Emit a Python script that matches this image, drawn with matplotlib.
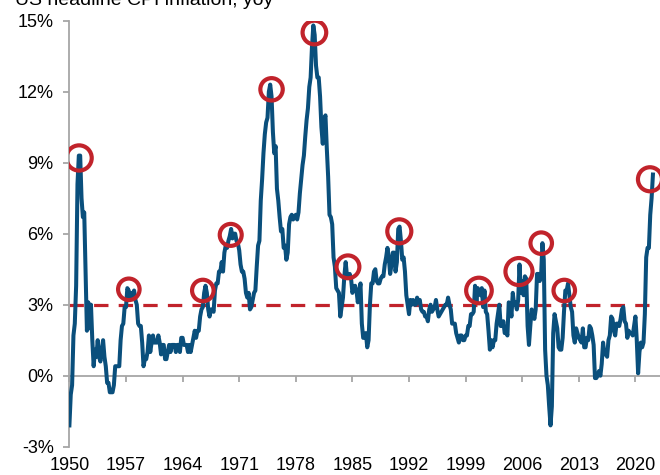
import numpy as np
import matplotlib.pyplot as plt

plt.rcParams['font.family'] = ['Liberation Sans', 'DejaVu Sans']

# US headline CPI, yoy %, read every two months (Jan, Mar, May, Jul, Sep, Nov)
start_year = 1950
cpi_yoy = [
    -2.1, -0.8, -0.4, 1.7, 2.2, 3.8,     # 1950
    8.1, 9.3, 9.3, 7.5, 6.7, 6.9,        # 1951
    4.3, 1.9, 3.1, 2.0, 3.0, 1.5,        # 1952
    0.4, 1.1, 0.8, 1.5, 0.8, 0.6,        # 1953
    1.1, 1.5, 0.8, 0.4, -0.3, -0.3,      # 1954
    -0.7, -0.7, -0.7, -0.4, 0.4, 0.4,    # 1955
    0.4, 0.4, 1.5, 2.1, 2.2, 2.9,        # 1956
    2.9, 3.7, 3.6, 3.3, 3.5, 3.3,        # 1957
    3.6, 3.2, 3.0, 2.2, 2.1, 2.1,        # 1958
    1.4, 0.4, 0.7, 0.7, 1.0, 1.7,        # 1959
    1.0, 1.4, 1.7, 1.4, 1.4, 1.4,        # 1960
    1.7, 1.4, 0.9, 1.3, 1.3, 0.7,        # 1961
    0.7, 1.0, 1.3, 1.0, 1.3, 1.3,        # 1962
    1.3, 1.0, 1.3, 1.3, 1.0, 1.6,        # 1963
    1.6, 1.3, 1.3, 1.3, 1.0, 1.3,        # 1964
    1.0, 1.3, 1.6, 1.9, 1.6, 1.9,        # 1965
    1.9, 2.5, 2.8, 2.9, 3.5, 3.8,        # 1966
    3.5, 2.8, 2.5, 2.8, 2.8, 2.7,        # 1967
    3.6, 3.9, 3.9, 4.4, 4.4, 4.8,        # 1968
    4.4, 5.2, 5.5, 5.4, 5.7, 5.9,        # 1969
    6.2, 5.8, 6.0, 6.0, 5.7, 5.6,        # 1970
    5.3, 4.7, 4.4, 4.4, 4.1, 3.5,        # 1971
    3.3, 3.5, 2.8, 2.9, 3.2, 3.5,        # 1972
    3.6, 4.6, 5.5, 5.7, 7.4, 8.3,        # 1973
    9.4, 10.2, 10.7, 10.9, 12.0, 12.3,   # 1974
    11.8, 10.3, 9.4, 9.7, 7.9, 7.4,      # 1975
    6.7, 6.1, 6.2, 5.4, 5.5, 4.9,        # 1976
    5.2, 6.4, 6.7, 6.8, 6.6, 6.7,        # 1977
    6.8, 6.6, 6.9, 7.7, 8.3, 8.9,        # 1978
    9.3, 10.1, 10.8, 11.3, 12.2, 12.6,   # 1979
    13.9, 14.8, 14.4, 13.1, 12.6, 12.6,  # 1980
    11.8, 10.5, 9.8, 10.8, 11.0, 9.6,    # 1981
    8.4, 6.8, 6.7, 6.4, 5.0, 4.6,        # 1982
    3.7, 3.6, 3.5, 2.5, 2.9, 3.3,        # 1983
    4.2, 4.8, 4.2, 4.2, 4.3, 4.1,        # 1984
    3.5, 3.7, 3.8, 3.6, 3.1, 3.5,        # 1985
    3.9, 2.2, 1.6, 1.6, 1.8, 1.2,        # 1986
    1.5, 3.0, 3.9, 3.9, 4.4, 4.5,        # 1987
    4.0, 3.9, 3.9, 4.1, 4.2, 4.2,        # 1988
    4.7, 5.0, 5.4, 5.0, 4.3, 4.7,        # 1989
    5.2, 5.2, 4.4, 4.8, 6.2, 6.3,        # 1990
    5.7, 4.9, 5.0, 4.4, 3.4, 3.0,        # 1991
    2.6, 3.2, 3.0, 3.2, 3.0, 3.0,        # 1992
    3.3, 3.1, 3.2, 2.8, 2.7, 2.7,        # 1993
    2.5, 2.5, 2.3, 2.8, 3.0, 2.7,        # 1994
    2.8, 2.9, 3.2, 2.8, 2.5, 2.6,        # 1995
    2.7, 2.8, 2.9, 3.0, 3.0, 3.3,        # 1996
    3.0, 2.8, 2.2, 2.2, 2.2, 1.8,        # 1997
    1.6, 1.4, 1.7, 1.7, 1.5, 1.5,        # 1998
    1.7, 1.7, 2.1, 2.1, 2.6, 2.6,        # 1999
    2.7, 3.8, 3.1, 3.7, 3.5, 3.4,        # 2000
    3.7, 2.9, 3.6, 2.7, 2.6, 1.9,        # 2001
    1.1, 1.5, 1.2, 1.5, 1.5, 2.2,        # 2002
    2.6, 3.0, 2.1, 2.1, 2.3, 1.8,        # 2003
    1.9, 1.7, 3.1, 3.0, 2.5, 3.5,        # 2004
    3.0, 3.1, 2.8, 3.2, 4.7, 3.5,        # 2005
    4.0, 3.4, 4.2, 4.1, 2.1, 1.3,        # 2006
    2.1, 2.8, 2.7, 2.4, 2.8, 4.3,        # 2007
    4.3, 4.0, 4.2, 5.6, 4.9, 1.1,        # 2008
    0.0, -0.4, -1.3, -2.1, -1.3, 1.8,    # 2009
    2.6, 2.3, 2.0, 1.2, 1.1, 1.1,        # 2010
    1.6, 2.7, 3.6, 3.6, 3.9, 3.4,        # 2011
    2.9, 2.7, 1.7, 1.4, 2.0, 1.8,        # 2012
    1.6, 1.5, 1.4, 2.0, 1.2, 1.2,        # 2013
    1.6, 1.5, 2.1, 2.0, 1.7, 1.3,        # 2014
    -0.1, -0.1, 0.0, 0.2, 0.0, 0.5,      # 2015
    1.4, 0.9, 1.0, 0.8, 1.5, 1.7,        # 2016
    2.5, 2.4, 1.9, 1.7, 2.2, 2.2,        # 2017
    2.1, 2.4, 2.8, 2.9, 2.3, 2.2,        # 2018
    1.6, 1.9, 1.8, 1.8, 1.7, 2.1,        # 2019
    2.5, 1.5, 0.1, 1.0, 1.4, 1.2,        # 2020
    1.4, 2.6, 5.0, 5.4, 5.4, 6.8,        # 2021
    7.5, 8.5,                            # 2022
]

# circled peaks (year, %)
peak_years = [1951.2, 1957.35, 1966.5, 1969.95, 1975.0, 1980.3, 1984.45,
              1990.8, 2000.65, 2005.6, 2008.35, 2011.2, 2021.8]
peak_values = [9.2, 3.65, 3.6, 5.95, 12.1, 14.5, 4.6, 6.1, 3.6, 4.4, 5.6, 3.6, 8.3]
peak_sizes = [330, 240, 240, 250, 260, 290, 270, 300, 340, 380, 240, 240, 300]

threshold = 3
x_ticks = list(range(1950, 2021, 7))
y_ticks = list(range(-3, 16, 3))

x = start_year + np.arange(len(cpi_yoy)) / 6

fig = plt.figure(figsize=(6.6, 4.75), dpi=100)
ax = fig.add_axes([69.4 / 660, 1 - 446.7 / 475, 1 - 69.4 / 660, (446.7 - 20.7) / 475])

blue = '#0a4f7c'
red = '#c1232b'
grey = '#a6a6a6'

ax.hlines(threshold, 1950, 2021.7, color=red, lw=2.3, linestyle=(0, (4.5, 3.2)), zorder=2)
ax.plot(x, cpi_yoy, color=blue, lw=2.9, solid_joinstyle='round', zorder=3)
ax.scatter(peak_years, peak_values, s=peak_sizes, facecolors='none',
           edgecolors=red, linewidths=3, zorder=4)

ax.set_xlim(1950, 2023.04)
ax.set_ylim(-3, 15)
ax.set_xticks(x_ticks)
ax.set_yticks(y_ticks)
ax.set_yticklabels([f'{v}%' for v in y_ticks])

ax.spines['top'].set_visible(False)
ax.spines['right'].set_visible(False)
ax.spines['bottom'].set_position(('data', 0))
for s in ['left', 'bottom']:
    ax.spines[s].set_color(grey)
    ax.spines[s].set_linewidth(1.3)

ax.tick_params(axis='both', direction='out', color=grey, width=1.3, length=4.3,
               labelsize=13, labelcolor='black')
ax.tick_params(axis='y', pad=7)
ax.tick_params(axis='x', pad=54.5)

fig.text(15 / 660, 1 - 5 / 475, 'US headline CPI inflation, yoy', fontsize=14,
         ha='left', va='baseline')

fig.savefig('out.png', dpi=100)
